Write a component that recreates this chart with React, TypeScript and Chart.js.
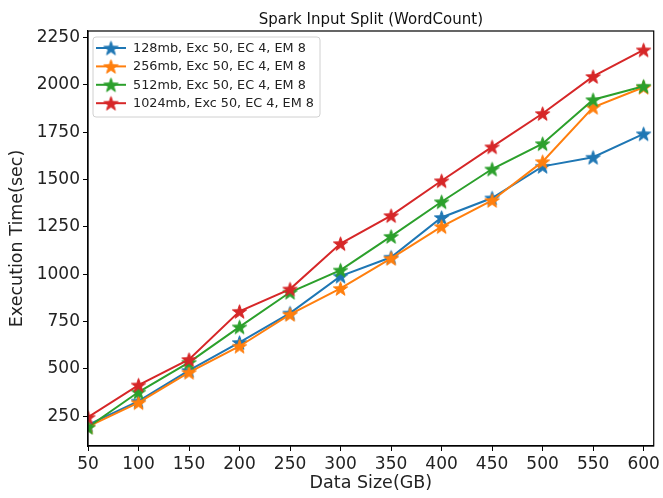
import React, { useEffect, useRef } from "react";
import { Chart, registerables } from "chart.js";

Chart.register(...registerables);

const dataSizes = [50, 100, 150, 200, 250, 300, 350, 400, 450, 500, 550, 600];
const seriesLabels = [
  "128mb, Exc 50, EC 4, EM 8",
  "256mb, Exc 50, EC 4, EM 8",
  "512mb, Exc 50, EC 4, EM 8",
  "1024mb, Exc 50, EC 4, EM 8",
];
const time128 = [205, 330, 492, 640, 795, 990, 1090, 1300, 1403, 1570, 1618, 1742];
const time256 = [195, 322, 482, 620, 788, 925, 1084, 1252, 1390, 1595, 1882, 1988];
const time512 = [192, 378, 535, 722, 905, 1022, 1200, 1383, 1556, 1690, 1922, 1993];
const time1024 = [245, 415, 550, 804, 922, 1162, 1310, 1494, 1673, 1849, 2045, 2185];
const seriesColors = ["#1f77b4", "#ff7f0e", "#2ca02c", "#d62728"];
const xTickValues = [50, 100, 150, 200, 250, 300, 350, 400, 450, 500, 550, 600];
const yTickValues = [250, 500, 750, 1000, 1250, 1500, 1750, 2000, 2250];
const titleText = "Spark Input Split (WordCount)";
const xTitle = "Data Size(GB)";
const yTitle = "Execution Time(sec)";

const FONT = "'DejaVu Sans', sans-serif";

function starPath(ctx: CanvasRenderingContext2D, cx: number, cy: number, R: number) {
  const r = R * 0.4;
  ctx.beginPath();
  for (let i = 0; i < 10; i++) {
    const rad = i % 2 === 0 ? R : r;
    const a = -Math.PI / 2 + (i * Math.PI) / 5;
    const x = cx + rad * Math.cos(a);
    const y = cy + rad * Math.sin(a);
    if (i === 0) ctx.moveTo(x, y);
    else ctx.lineTo(x, y);
  }
  ctx.closePath();
}

function makeStar(color: string, R: number) {
  const size = Math.ceil(R * 2 + 4);
  const c = document.createElement("canvas");
  c.width = size;
  c.height = size;
  const ctx = c.getContext("2d")!;
  starPath(ctx, size / 2, size / 2 + R * 0.1, R);
  ctx.fillStyle = color;
  ctx.fill();
  ctx.lineWidth = 1;
  ctx.strokeStyle = color;
  ctx.stroke();
  return c;
}

export default function App() {
  const ref = useRef<HTMLCanvasElement | null>(null);

  useEffect(() => {
    document.body.style.margin = "0";
    const canvas = ref.current!;
    const series = [time128, time256, time512, time1024];
    const stars = seriesColors.map((c) => makeStar(c, 7.5));

    const framePlugin = {
      id: "frame",
      afterDatasetsDraw(chart: any) {
        const { ctx, chartArea: a } = chart;
        ctx.save();
        ctx.strokeStyle = "#000";
        ctx.lineWidth = 1.2;
        ctx.strokeRect(a.left, a.top, a.right - a.left, a.bottom - a.top);

        // legend
        const lx = 93, ly = 37, lw = 227, lh = 80;
        ctx.beginPath();
        const rr = 3;
        ctx.moveTo(lx + rr, ly);
        ctx.arcTo(lx + lw, ly, lx + lw, ly + lh, rr);
        ctx.arcTo(lx + lw, ly + lh, lx, ly + lh, rr);
        ctx.arcTo(lx, ly + lh, lx, ly, rr);
        ctx.arcTo(lx, ly, lx + lw, ly, rr);
        ctx.closePath();
        ctx.fillStyle = "rgba(255,255,255,0.8)";
        ctx.fill();
        ctx.strokeStyle = "#d0d0d0";
        ctx.lineWidth = 1;
        ctx.stroke();
        ctx.font = `12.8px ${FONT}`;
        ctx.textBaseline = "middle";
        ctx.textAlign = "left";
        seriesLabels.forEach((lab, i) => {
          const y = 48 + i * 18.4;
          ctx.strokeStyle = seriesColors[i];
          ctx.lineWidth = 2;
          ctx.beginPath();
          ctx.moveTo(96, y);
          ctx.lineTo(126, y);
          ctx.stroke();
          const s = stars[i];
          ctx.drawImage(s, 111 - s.width / 2, y - s.height / 2);
          ctx.fillStyle = "#222";
          ctx.fillText(lab, 133, y + 0.5);
        });

        // title
        ctx.font = `15px ${FONT}`;
        ctx.textAlign = "center";
        ctx.textBaseline = "alphabetic";
        ctx.fillStyle = "#111";
        ctx.fillText(titleText, (a.left + a.right) / 2, 24);
        ctx.restore();
      },
    };

    const chart = new Chart(canvas, {
      type: "line",
      data: {
        datasets: series.map((vals, i) => ({
          label: seriesLabels[i],
          data: vals.map((v, j) => ({ x: dataSizes[j], y: v })),
          borderColor: seriesColors[i],
          backgroundColor: seriesColors[i],
          borderWidth: 2,
          pointStyle: stars[i] as any,
          pointRadius: 7,
          tension: 0,
          fill: false,
          order: 3 - i,
        })),
      },
      options: {
        responsive: false,
        animation: false,
        events: [],
        layout: { padding: { left: 0, top: 31, right: 7, bottom: 0 } },
        plugins: {
          legend: { display: false },
          title: { display: false },
          tooltip: { enabled: false },
        },
        scales: {
          x: {
            type: "linear",
            min: 50,
            max: 610,
            afterFit(scale: any) {
              scale.height = 52;
            },
            afterBuildTicks(scale: any) {
              scale.ticks = xTickValues.map((v) => ({ value: v }));
            },
            grid: {
              drawOnChartArea: false,
              drawTicks: true,
              tickLength: 5,
              tickColor: "#000",
              lineWidth: 1,
            },
            border: { display: true, color: "#000", width: 1.2 },
            ticks: {
              color: "#222",
              font: { family: FONT, size: 17 },
              padding: 3,
              maxRotation: 0,
              autoSkip: false,
              callback: (v: any) => String(v),
            },
            title: {
              display: true,
              text: xTitle,
              color: "#222",
              font: { family: FONT, size: 17.5 },
              padding: { top: 0, bottom: 4 },
            },
          },
          y: {
            type: "linear",
            min: 93,
            max: 2285,
            afterFit(scale: any) {
              scale.width = 88;
            },
            afterBuildTicks(scale: any) {
              scale.ticks = yTickValues.map((v) => ({ value: v }));
            },
            grid: {
              drawOnChartArea: false,
              drawTicks: true,
              tickLength: 5,
              tickColor: "#000",
              lineWidth: 1,
            },
            border: { display: true, color: "#000", width: 1.2 },
            ticks: {
              color: "#222",
              font: { family: FONT, size: 17 },
              padding: 3,
              autoSkip: false,
              callback: (v: any) => String(v),
            },
            title: {
              display: true,
              text: yTitle,
              color: "#222",
              font: { family: FONT, size: 17.5 },
              padding: { top: 7, bottom: 0 },
            },
          },
        },
      },
      plugins: [framePlugin],
    });
    return () => chart.destroy();
  }, []);

  return (
    <div style={{ width: 663, height: 498, background: "#fff" }}>
      <canvas ref={ref} width={663} height={498} style={{ display: "block" }} />
    </div>
  );
}
